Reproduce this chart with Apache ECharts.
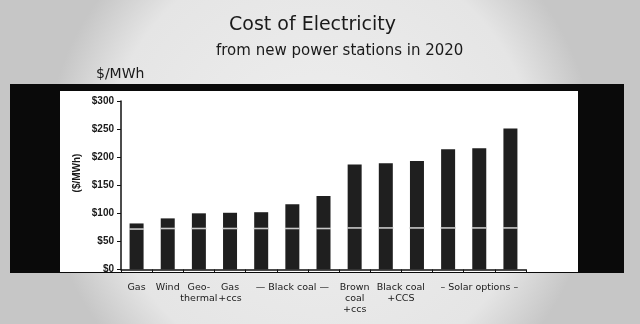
<!DOCTYPE html>
<html>
<head>
<meta charset="utf-8">
<script src="https://cdn.jsdelivr.net/npm/echarts@6/dist/echarts.min.js"></script>
<style>
html,body{margin:0;padding:0;background:#e2e2e2;}
#c{width:640px;height:324px;}
</style>
</head>
<body>
<div id="c"></div>
<script>
// ---- data ----
var categories = ['Gas','Wind','Geothermal','Gas + CCS','Black coal A','Black coal B','Black coal C','Brown coal + CCS','Black coal + CCS A','Black coal + CCS B','Solar A','Solar B','Solar C'];
var tickLabels = ['Gas','Wind','Geo-\nthermal','Gas\n+ccs','','— Black coal —','','Brown\ncoal\n+ccs','Black coal\n+CCS','','','– Solar options –',''];
var totalCost = [82, 91, 100, 101, 102, 116, 131, 187, 189, 193, 214, 216, 251];
var baseCost  = [72, 73, 73, 73, 73, 73, 73, 74, 74, 74, 74, 74, 74];
var yTicks = [0, 50, 100, 150, 200, 250, 300];

var hand = "'DejaVu Sans', sans-serif";
var chart = echarts.init(document.getElementById('c'), null, {renderer:'canvas'});

var xData = categories.map(function(c, i){
  var item = {value: c, textStyle: {}};
  if (i === 8) item.textStyle = {padding: [0, 0, 0, 30]};
  return item;
});

chart.setOption({
  animation: false,
  backgroundColor: {
    type: 'radial', x: 0.5, y: 0.5, r: 0.85,
    colorStops: [{offset: 0, color: '#efefef'}, {offset: 0.78, color: '#e5e5e5'}, {offset: 1, color: '#c6c6c6'}]
  },
  graphic: [
    {type: 'rect', z: 0, silent: true, shape: {x: 10, y: 84, width: 614, height: 189}, style: {fill: '#0a0a0a'}},
    {type: 'rect', z: 0, silent: true, shape: {x: 60, y: 91, width: 518, height: 181}, style: {fill: '#ffffff'}},
    {type: 'text', z: 5, left: 229, top: 16, style: {text: 'Cost of Electricity', font: '19px ' + hand, fill: '#1a1a1a'}},
    {type: 'text', z: 5, left: 216, top: 44, style: {text: 'from new power stations in 2020', font: '15px ' + hand, fill: '#1a1a1a'}},
    {type: 'text', z: 5, left: 96, top: 67, style: {text: '$/MWh', font: '14px ' + hand, fill: '#1a1a1a'}},
    {type: 'text', z: 5, x: 77, y: 173, rotation: Math.PI / 2, style: {text: '($/MWh)', font: 'bold 10px Arial, "Liberation Sans", sans-serif', fill: '#1a1a1a', align: 'center', verticalAlign: 'middle'}}
  ],
  grid: {left: 121, right: 114, top: 101, bottom: 54.5, containLabel: false},
  xAxis: {
    type: 'category',
    data: xData,
    axisLine: {show: true, lineStyle: {color: '#111', width: 1.5}},
    axisTick: {show: true, length: 3, lineStyle: {color: '#111'}},
    axisLabel: {
      interval: 0, margin: 13, color: '#1a1a1a', fontFamily: hand, fontSize: 9.5, lineHeight: 11,
      formatter: function(v, i){ return tickLabels[i]; }
    }
  },
  yAxis: {
    type: 'value', min: 0, max: 300, interval: 50,
    axisLine: {show: true, lineStyle: {color: '#111', width: 1.5}},
    axisTick: {show: true, length: 4, lineStyle: {color: '#111'}},
    splitLine: {show: false},
    axisLabel: {
      margin: 7, color: '#1a1a1a', fontFamily: 'Arial, "Liberation Sans", sans-serif', fontWeight: 'bold', fontSize: 10,
      formatter: function(v){ return yTicks.indexOf(v) >= 0 ? '$' + v : ''; }
    }
  },
  series: [
    {
      type: 'bar', data: totalCost, barWidth: 14,
      itemStyle: {color: '#1f1f1f'}, z: 2
    },
    {
      type: 'scatter', data: baseCost, symbol: 'rect', symbolSize: [15, 1.6],
      itemStyle: {color: '#c8c8c8', opacity: 1}, z: 3, silent: true
    }
  ]
});
</script>
</body>
</html>
